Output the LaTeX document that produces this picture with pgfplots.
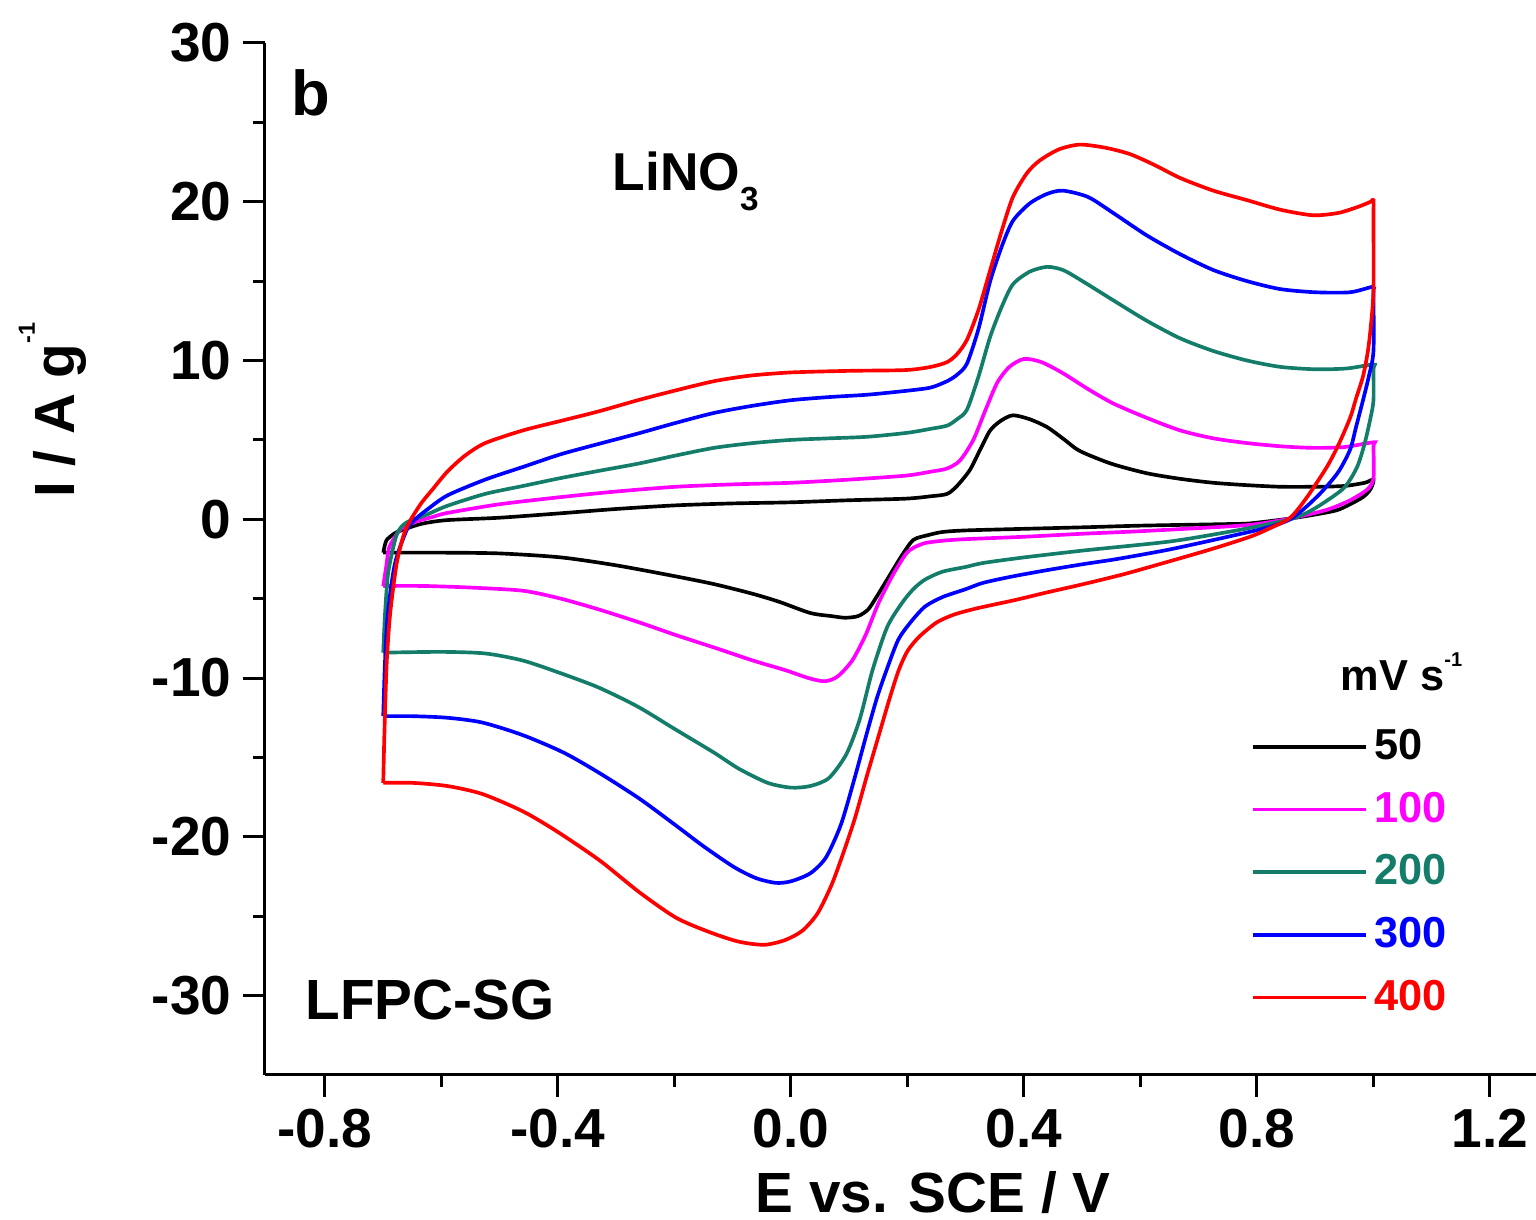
\documentclass[border=0pt]{standalone}
\usepackage{fontspec}
\setmainfont{Liberation Sans}
\usepackage{pgfplots}
\pgfplotsset{compat=1.18}
\definecolor{c50}{RGB}{0,0,0}
\definecolor{c100}{RGB}{255,0,255}
\definecolor{c200}{RGB}{20,125,105}
\definecolor{c300}{RGB}{0,0,255}
\definecolor{c400}{RGB}{255,0,0}
\begin{document}
\begin{tikzpicture}
\begin{axis}[
  name=ax,
  scale only axis,
  width=381.3pt, height=309.6pt,
  xmin=-0.903, xmax=1.279, ymin=-35, ymax=30,
  axis x line=bottom, axis y line=left,
  axis line style={-, line width=0.9pt},
  every tick/.style={line width=0.9pt, black},
  tick align=outside,
  major tick length=6.6pt, minor tick length=3.6pt,
  xtick={-0.8,-0.4,0,0.4,0.8,1.2},
  minor xtick={-0.6,-0.2,0.2,0.6,1.0},
  ytick={-30,-20,-10,0,10,20,30},
  minor ytick={-25,-15,-5,5,15,25},
  /pgf/number format/assume math mode=true,
  tick label style={font=\fontsize{16.5}{18}\selectfont\bfseries},
  xticklabel style={/pgf/number format/.cd, fixed, fixed zerofill, precision=1},
  yticklabel style={/pgf/number format/.cd, fixed, precision=0},
  xlabel={E vs. SCE / V},
  ylabel={I / A g\raisebox{12pt}{\fontsize{7}{7}\selectfont -1}},
  label style={font=\fontsize{17}{19}\selectfont\bfseries},
  xlabel style={at={(axis description cs:0.5256,-0.1328)}, anchor=base},
  ylabel style={at={(axis description cs:-0.1495,0.644)}, anchor=base},
  legend style={at={(axis description cs:0.775,0.342)}, anchor=north west,
    draw=none, fill=none, font=\fontsize{13}{14}\selectfont\bfseries,
    row sep=4.2pt, inner sep=0pt},
  legend cell align=left,
  legend image code/.code={\draw[#1, line width=1.1pt] (0pt,0pt) -- (34pt,0pt);},
  every axis plot/.append style={line width=1.1pt, smooth, tension=0.45},
]
% 50 mV/s
\addplot[c50] coordinates {
(-0.7,-2.1) (-0.697,-1.6) (-0.694,-1.3) (-0.685,-1.0) (-0.676,-0.8) (-0.654,-0.5)
(-0.63,-0.25) (-0.59,-0.05) (-0.5,0.1) (-0.395,0.38) (-0.3,0.65) (-0.197,0.88)
(-0.1,1.0) (0.0,1.07) (0.1,1.2) (0.197,1.3) (0.24,1.45) (0.268,1.6) (0.285,2.1)
(0.307,3.1) (0.325,4.4) (0.342,5.6) (0.36,6.2) (0.381,6.55) (0.41,6.3) (0.44,5.8)
(0.47,5.0) (0.496,4.3) (0.55,3.5) (0.611,2.9) (0.668,2.55) (0.725,2.3) (0.783,2.15)
(0.84,2.05) (0.9,2.05) (0.95,2.1) (0.985,2.3) (1.0,2.5)
(0.995,1.9) (0.982,1.4) (0.96,0.95) (0.937,0.57) (0.9,0.3) (0.857,0.05) (0.79,-0.25)
(0.75,-0.3) (0.6,-0.4) (0.506,-0.5) (0.4,-0.6) (0.3,-0.7) (0.26,-0.8) (0.235,-1.0)
(0.21,-1.3) (0.19,-2.3) (0.165,-3.8) (0.145,-5.0) (0.132,-5.7) (0.115,-6.1) (0.093,-6.2)
(0.07,-6.1) (0.033,-5.9) (-0.02,-5.2) (-0.065,-4.7) (-0.13,-4.1) (-0.197,-3.6)
(-0.3,-2.9) (-0.395,-2.4) (-0.5,-2.15) (-0.6,-2.1) (-0.7,-2.1)
};
\addlegendentry{\textcolor{c50}{50}}
% 100 mV/s
\addplot[c100] coordinates {
(-0.7,-4.2) (-0.695,-3) (-0.69,-1.8) (-0.678,-1.0) (-0.666,-0.5) (-0.64,-0.1)
(-0.615,0.15) (-0.59,0.4) (-0.5,0.95) (-0.395,1.4) (-0.3,1.75) (-0.197,2.05)
(-0.1,2.2) (0.0,2.3) (0.1,2.5) (0.197,2.75) (0.24,3.0) (0.268,3.2) (0.29,3.7)
(0.313,5.0) (0.333,6.8) (0.354,8.6) (0.375,9.6) (0.4,10.1) (0.43,9.9) (0.467,9.2)
(0.51,8.2) (0.553,7.3) (0.61,6.4) (0.668,5.6) (0.725,5.1) (0.783,4.8) (0.84,4.6)
(0.896,4.5) (0.95,4.55) (1.0,4.85)
(1.0,4.6) (1.0,2.6) (0.99,1.9) (0.96,1.2) (0.92,0.6) (0.857,0.05) (0.8,-0.3)
(0.75,-0.45) (0.6,-0.75) (0.506,-0.9) (0.4,-1.1) (0.3,-1.25) (0.26,-1.35) (0.23,-1.5)
(0.21,-1.8) (0.197,-2.2) (0.175,-3.5) (0.15,-5.3) (0.128,-7.3) (0.105,-8.9) (0.08,-9.9)
(0.058,-10.2) (0.03,-10.0) (-0.01,-9.5) (-0.065,-8.9) (-0.13,-8.1) (-0.197,-7.3)
(-0.26,-6.5) (-0.328,-5.7) (-0.395,-5.0) (-0.46,-4.5) (-0.55,-4.3) (-0.63,-4.2) (-0.7,-4.2)
};
\addlegendentry{\textcolor{c100}{100}}
% 200 mV/s
\addplot[c200] coordinates {
(-0.7,-8.4) (-0.697,-6) (-0.692,-3.5) (-0.683,-1.8) (-0.675,-0.8) (-0.66,-0.2)
(-0.625,0.3) (-0.59,0.85) (-0.525,1.6) (-0.46,2.1) (-0.395,2.6) (-0.33,3.05)
(-0.263,3.5) (-0.2,4.0) (-0.132,4.5) (-0.066,4.8) (0.0,5.0) (0.066,5.1) (0.132,5.2)
(0.2,5.45) (0.24,5.7) (0.268,5.9) (0.285,6.3) (0.302,6.9) (0.322,9.0) (0.342,11.5)
(0.362,13.4) (0.381,14.8) (0.41,15.6) (0.44,15.9) (0.467,15.7) (0.496,15.1)
(0.553,13.8) (0.611,12.5) (0.668,11.4) (0.725,10.6) (0.783,10.0) (0.84,9.6)
(0.9,9.45) (0.954,9.5) (1.0,9.75)
(1.0,9.45) (1.0,7.5) (0.995,6.4) (0.985,4.8) (0.972,3.3) (0.95,2.0) (0.913,1.0)
(0.885,0.4) (0.857,0.0) (0.8,-0.45) (0.75,-0.8) (0.65,-1.4) (0.506,-1.95) (0.4,-2.4)
(0.33,-2.75) (0.3,-3.0) (0.26,-3.3) (0.23,-3.8) (0.21,-4.4) (0.19,-5.3) (0.165,-6.8)
(0.14,-9.5) (0.118,-12.6) (0.095,-14.8) (0.065,-16.3) (0.033,-16.8) (0.0,-16.9)
(-0.04,-16.6) (-0.09,-15.7) (-0.132,-14.7) (-0.2,-13.2) (-0.263,-11.8) (-0.33,-10.6)
(-0.395,-9.7) (-0.46,-8.9) (-0.525,-8.45) (-0.6,-8.35) (-0.7,-8.4)
};
\addlegendentry{\textcolor{c200}{200}}
% 300 mV/s
\addplot[c300] coordinates {
(-0.7,-12.4) (-0.697,-9) (-0.692,-5.9) (-0.68,-2.8) (-0.66,-0.7) (-0.645,0.0)
(-0.625,0.6) (-0.59,1.5) (-0.525,2.5) (-0.46,3.3) (-0.395,4.1) (-0.33,4.75)
(-0.263,5.4) (-0.2,6.05) (-0.132,6.7) (-0.066,7.15) (0.0,7.5) (0.066,7.7) (0.132,7.85)
(0.2,8.1) (0.24,8.3) (0.268,8.7) (0.285,9.1) (0.302,9.8) (0.322,12.0) (0.342,15.0)
(0.362,17.2) (0.381,18.8) (0.41,19.9) (0.44,20.5) (0.467,20.7) (0.51,20.3)
(0.553,19.3) (0.61,17.9) (0.668,16.7) (0.725,15.7) (0.783,15.0) (0.84,14.5)
(0.9,14.3) (0.96,14.3) (1.0,14.65)
(1.0,14.3) (1.0,10.6) (0.992,9.0) (0.982,7.5) (0.97,5.8) (0.96,4.4) (0.94,3.0)
(0.913,1.8) (0.885,0.8) (0.857,0.0) (0.82,-0.5) (0.75,-1.1) (0.65,-1.9) (0.56,-2.5)
(0.506,-2.8) (0.44,-3.2) (0.38,-3.6) (0.33,-4.0) (0.3,-4.4) (0.26,-4.9) (0.23,-5.5)
(0.205,-6.5) (0.184,-7.6) (0.165,-9.4) (0.148,-11.2) (0.13,-13.5) (0.11,-16.2)
(0.086,-19.2) (0.06,-21.3) (0.033,-22.3) (0.0,-22.8) (-0.026,-22.9) (-0.06,-22.6)
(-0.098,-21.9) (-0.15,-20.6) (-0.197,-19.3) (-0.26,-17.6) (-0.328,-16.0)
(-0.39,-14.7) (-0.46,-13.6) (-0.53,-12.8) (-0.59,-12.5) (-0.65,-12.4) (-0.7,-12.4)
};
\addlegendentry{\textcolor{c300}{300}}
% 400 mV/s
\addplot[c400] coordinates {
(-0.700,-16.6) (-0.698,-13.5) (-0.694,-9) (-0.688,-5.9) (-0.677,-2.8) (-0.665,-1.0)
(-0.654,-0.1) (-0.635,1.0) (-0.615,1.9) (-0.59,3.0) (-0.56,4.0) (-0.525,4.8)
(-0.46,5.6) (-0.395,6.2) (-0.33,6.8) (-0.263,7.5) (-0.2,8.1) (-0.132,8.7)
(-0.07,9.05) (0.0,9.25) (0.1,9.35) (0.197,9.4) (0.24,9.6) (0.268,9.9) (0.285,10.4)
(0.302,11.3) (0.322,13.2) (0.342,15.7) (0.362,18.2) (0.381,20.3) (0.405,21.8)
(0.427,22.6) (0.46,23.3) (0.496,23.6) (0.54,23.4) (0.582,23.0) (0.625,22.3)
(0.668,21.5) (0.725,20.7) (0.783,20.1) (0.84,19.5) (0.896,19.15) (0.94,19.3)
(0.975,19.7) (0.995,20.0) (1.0,20.1)
(1.0,19.0) (1.0,14.4) (0.995,12) (0.99,10.5) (0.982,9.0) (0.97,7.6) (0.96,6.4)
(0.94,4.7) (0.92,3.3) (0.886,1.4) (0.857,0.1) (0.82,-0.6) (0.788,-1.1) (0.72,-1.9)
(0.616,-3.0) (0.567,-3.5) (0.5,-4.1) (0.44,-4.6) (0.383,-5.1) (0.32,-5.6) (0.28,-6.0)
(0.25,-6.5) (0.22,-7.4) (0.2,-8.3) (0.185,-9.5) (0.17,-11.2) (0.15,-13.7) (0.13,-16.2)
(0.11,-18.8) (0.09,-21.0) (0.07,-23.0) (0.046,-24.8) (0.02,-25.9) (-0.01,-26.5)
(-0.046,-26.8) (-0.09,-26.6) (-0.14,-26.0) (-0.197,-25.1) (-0.26,-23.5) (-0.328,-21.5)
(-0.4,-19.7) (-0.46,-18.4) (-0.53,-17.3) (-0.59,-16.8) (-0.65,-16.6) (-0.7,-16.6)
};
\addlegendentry{\textcolor{c400}{400}}
\node[anchor=base west, inner sep=0pt, font=\fontsize{19}{19}\selectfont\bfseries]
  at (axis description cs:0.02,0.930) {b};
\node[anchor=base west, inner sep=0pt, font=\fontsize{16}{16}\selectfont\bfseries]
  at (axis description cs:0.273,0.857) {LiNO\raisebox{-6pt}{\fontsize{10}{10}\selectfont 3}};
\node[anchor=base west, inner sep=0pt, font=\fontsize{17}{17}\selectfont\bfseries]
  at (axis description cs:0.0315,0.0533) {LFPC-SG};
\node[anchor=base west, inner sep=0pt, font=\fontsize{13}{13}\selectfont\bfseries]
  at (axis description cs:0.846,0.373) {mV s\raisebox{7pt}{\fontsize{6}{6}\selectfont -1}};
\end{axis}
\pgfresetboundingbox
\path[use as bounding box] ([shift={(-79.5pt,-43.5pt)}]ax.south west) rectangle ([shift={(0pt,12.9pt)}]ax.north east);
\end{tikzpicture}
\end{document}
